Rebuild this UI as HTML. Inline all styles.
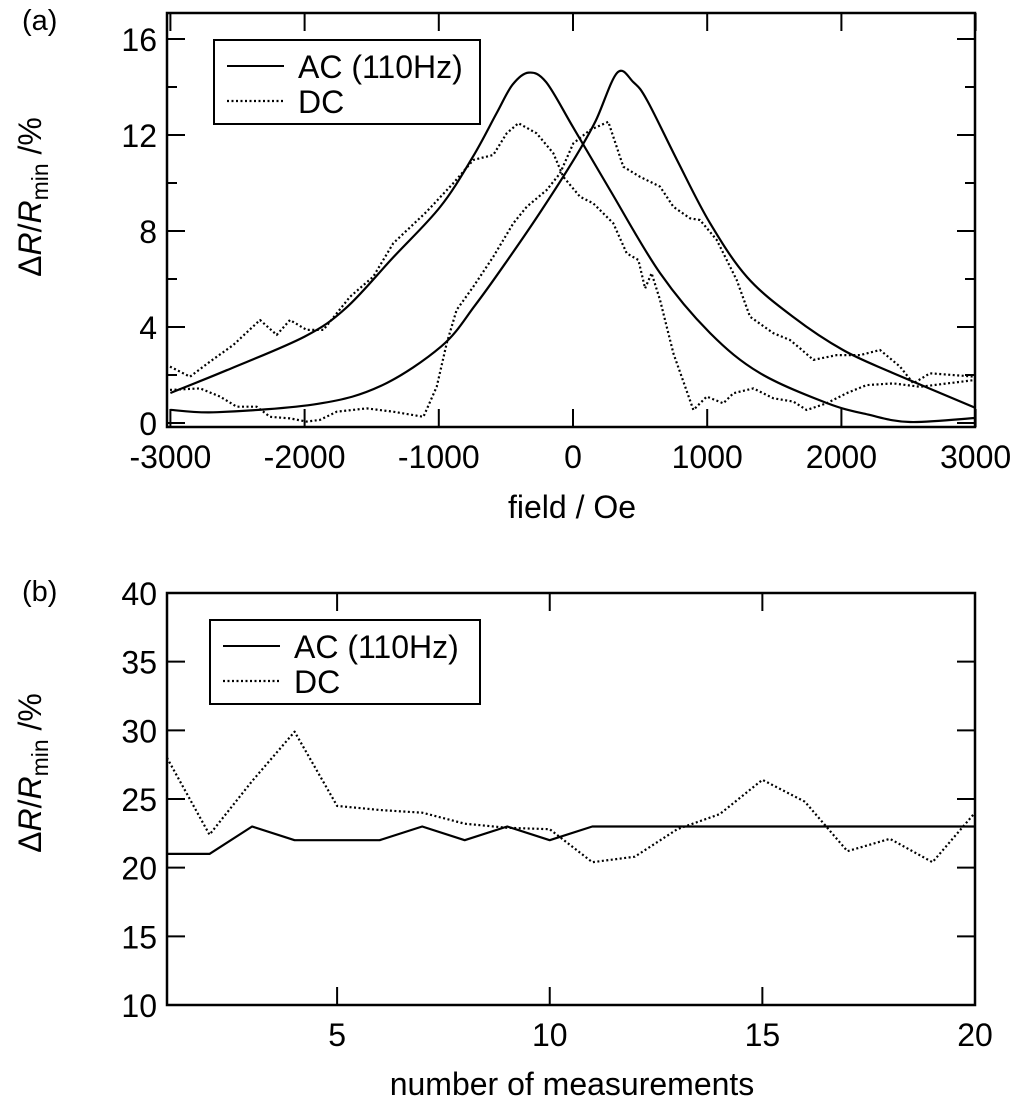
<!DOCTYPE html>
<html><head><meta charset="utf-8">
<style>
html,body{margin:0;padding:0;background:#fff;}
svg{display:block;font-family:"Liberation Sans",Arial,sans-serif;}
</style></head>
<body>
<svg id="fig" width="1024" height="1117" viewBox="0 0 1024 1117" xmlns="http://www.w3.org/2000/svg">
<text x="22" y="30" font-size="29">(a)</text>
<text x="22" y="601" font-size="29">(b)</text>
<text transform="translate(41,197) rotate(-90)" text-anchor="middle" font-size="32">Δ<tspan font-style="italic">R</tspan>/<tspan font-style="italic">R</tspan><tspan font-size="23" dy="7">min</tspan><tspan dy="-7"> /%</tspan></text>
<text transform="translate(41,773) rotate(-90)" text-anchor="middle" font-size="32">Δ<tspan font-style="italic">R</tspan>/<tspan font-style="italic">R</tspan><tspan font-size="23" dy="7">min</tspan><tspan dy="-7"> /%</tspan></text>
<text x="572" y="518" text-anchor="middle" font-size="32">field / Oe</text>
<text x="572" y="1095" text-anchor="middle" font-size="32">number of measurements</text>
<g id="pa"></g>
<g id="pb"></g>
</svg>
<script>
// Panel (a) data
const acLeftField = [-3000,-2580,-2000,-1690,-1340,-990,-745,-570,-450,-330,-200,0,276,648,1021,1393,1893,2200,2511,3000];
const acLeftValue = [1.25,2.2,3.6,4.8,6.9,9.0,11.1,12.9,14.1,14.6,14.2,12.33,9.71,6.25,3.75,2.08,0.83,0.35,0.04,0.21];
const acRightField = [-3000,-2650,-1900,-1430,-980,-730,-480,-230,20,170,330,450,551,775,1021,1297,1640,2012,2385,3000];
const acRightValue = [0.55,0.45,0.8,1.55,3.2,4.9,6.85,8.9,11.1,12.6,14.6,14.2,13.46,10.96,8.33,6.08,4.42,3.04,2.08,0.63];
const dcAField = [-3003,-2854,-2705,-2531,-2332,-2208,-2109,-1985,-1860,-1662,-1488,-1339,-1090,-892,-743,-594,-494,-407,-271,-147,-72,52,151,300,400,487,537,586,648,748,897,996,1120,1195,1344,1493,1642,1741,1890,2039,2188,2387,2586,2996];
const dcAValue = [2.35,1.93,2.56,3.25,4.29,3.67,4.29,3.88,3.88,5.26,6.10,7.49,8.81,9.99,10.96,11.17,12.07,12.49,12.07,11.24,10.26,9.43,9.15,8.32,7.07,6.79,5.61,6.24,5.13,2.90,0.54,1.10,0.82,1.24,1.44,1.03,0.89,0.54,0.82,1.24,1.58,1.65,1.51,1.79];
const dcBField = [-3003,-2779,-2630,-2506,-2357,-2258,-2109,-1985,-1885,-1761,-1538,-1339,-1115,-1016,-941,-867,-743,-594,-445,-345,-196,-97,2,127,263,375,499,648,748,872,946,1071,1220,1319,1493,1617,1692,1791,1965,2139,2288,2437,2536,2660,2996];
const dcBValue = [1.38,1.44,1.10,0.68,0.68,0.26,0.19,0.06,0.13,0.47,0.61,0.47,0.26,1.51,3.32,4.71,5.68,6.93,8.32,9.01,9.71,10.40,11.65,12.21,12.55,10.68,10.26,9.85,9.01,8.53,8.46,7.63,5.96,4.43,3.74,3.46,3.11,2.63,2.83,2.83,3.04,2.35,1.65,2.07,1.93];
const aXTicks = [-3000,-2000,-1000,0,1000,2000,3000];
const aYTicks = [0,2,4,6,8,10,12,14,16];
const aYLabels = ["0","4","8","12","16"];
// Panel (b) data
const bMeas = [1,2,3,4,5,6,7,8,9,10,11,12,13,14,15,16,17,18,19,20];
const bAC = [21,21,23,22,22,22,23,22,23,22,23,23,23,23,23,23,23,23,23,23];
const bDC = [28,22.4,26.3,29.9,24.5,24.2,24,23.2,22.9,22.8,20.4,20.8,22.8,23.9,26.4,24.8,21.2,22.1,20.4,24];
const bXTicks = [5,10,15,20];
const bYTicks = [10,15,20,25,30,35,40];

const NS="http://www.w3.org/2000/svg";
function mk(parent,tag,attrs){const e=document.createElementNS(NS,tag);for(const k in attrs)e.setAttribute(k,attrs[k]);parent.appendChild(e);return e;}

function line(g,xs,ys,fx,fy,dash,name,smooth){
  const P=xs.map((x,i)=>[fx(x),fy(ys[i])]);
  let d='M'+P[0][0].toFixed(1)+','+P[0][1].toFixed(1);
  for(let i=0;i<P.length-1;i++){
    if(smooth){
      const p0=P[Math.max(0,i-1)],p1=P[i],p2=P[i+1],p3=P[Math.min(P.length-1,i+2)];
      const c1=[p1[0]+(p2[0]-p0[0])/6,p1[1]+(p2[1]-p0[1])/6];
      const c2=[p2[0]-(p3[0]-p1[0])/6,p2[1]-(p3[1]-p1[1])/6];
      d+=' C'+c1[0].toFixed(1)+','+c1[1].toFixed(1)+' '+c2[0].toFixed(1)+','+c2[1].toFixed(1)+' '+p2[0].toFixed(1)+','+p2[1].toFixed(1);
    } else d+=' L'+P[i+1][0].toFixed(1)+','+P[i+1][1].toFixed(1);
  }
  const p=mk(g,'path',{d:d,fill:'none',stroke:'#000','stroke-width':dash?2.2:2.2,'stroke-linejoin':'round'});
  if(dash)p.setAttribute('stroke-dasharray','2,2.5');
  
  
}
function legend(g,x,y,w,h,name){
  const lg=mk(g,'g',{});
  
  
  mk(lg,'rect',{x:x,y:y,width:w,height:h,fill:'#fff',stroke:'#000','stroke-width':2});
  mk(lg,'line',{x1:x+13,y1:y+26,x2:x+70,y2:y+26,stroke:'#000','stroke-width':2});
  mk(lg,'line',{x1:x+13,y1:y+61,x2:x+70,y2:y+61,stroke:'#000','stroke-width':2.2,'stroke-dasharray':'2,2.5'});
  const t1=mk(lg,'text',{x:x+84,y:y+38,'font-size':32});t1.textContent='AC (110Hz)';
  const t2=mk(lg,'text',{x:x+84,y:y+73,'font-size':32});t2.textContent='DC';
}

// Panel a
const pa=document.getElementById('pa');
const ax=v=>573+v*0.1342, ay=v=>423-v*24;
const A={l:167,r:975,t:13,b:427};
const clipA=mk(pa,'clipPath',{id:'ca'});mk(clipA,'rect',{x:A.l,y:A.t,width:A.r-A.l,height:A.b-A.t});
const ga=mk(pa,'g',{'clip-path':'url(#ca)'});
line(ga,acLeftField,acLeftValue,ax,ay,false,'ac-curve-negative-peak',true);
line(ga,acRightField,acRightValue,ax,ay,false,'ac-curve-positive-peak',true);
line(ga,dcAField,dcAValue,ax,ay,true,'dc-curve-negative-peak',false);
line(ga,dcBField,dcBValue,ax,ay,true,'dc-curve-positive-peak',false);
const fa=mk(pa,'rect',{x:A.l,y:A.t,width:A.r-A.l,height:A.b-A.t,fill:'none',stroke:'#000','stroke-width':2.5});


aXTicks.forEach(v=>{
  const x=ax(v);
  mk(pa,'line',{x1:x,y1:A.b,x2:x,y2:A.b-18,stroke:'#000','stroke-width':2});
  mk(pa,'line',{x1:x,y1:A.t,x2:x,y2:A.t+18,stroke:'#000','stroke-width':2});
  const t=mk(pa,'text',{x:x,y:A.b+41,'text-anchor':'middle','font-size':32});
  t.textContent=String(v);
  
  
});
aYTicks.forEach((v,i)=>{
  const y=ay(v), major=(i%2===0), len=major?18:10;
  mk(pa,'line',{x1:A.l,y1:y,x2:A.l+len,y2:y,stroke:'#000','stroke-width':2});
  mk(pa,'line',{x1:A.r,y1:y,x2:A.r-len,y2:y,stroke:'#000','stroke-width':2});
  if(major){
    const t=mk(pa,'text',{x:A.l-10,y:y+12,'text-anchor':'end','font-size':32});
    t.textContent=aYLabels[i/2];
    
    
  }
});
legend(pa,214,40,266,84,'legend-a');

// Panel b
const pb=document.getElementById('pb');
const B={l:167,r:975,t:593,b:1005};
const bx=v=>B.l+(v-1)*(B.r-B.l)/19, by=v=>B.b-(v-10)*(B.b-B.t)/30;
line(pb,bMeas,bAC,bx,by,false,'ac-series-b',false);
line(pb,bMeas,bDC,bx,by,true,'dc-series-b',false);
const fb=mk(pb,'rect',{x:B.l,y:B.t,width:B.r-B.l,height:B.b-B.t,fill:'none',stroke:'#000','stroke-width':2.5});


bXTicks.forEach(v=>{
  const x=bx(v);
  mk(pb,'line',{x1:x,y1:B.b,x2:x,y2:B.b-18,stroke:'#000','stroke-width':2});
  mk(pb,'line',{x1:x,y1:B.t,x2:x,y2:B.t+18,stroke:'#000','stroke-width':2});
  const t=mk(pb,'text',{x:x,y:B.b+41,'text-anchor':'middle','font-size':32});
  t.textContent=String(v);
  
  
});
bYTicks.forEach(v=>{
  const y=by(v);
  mk(pb,'line',{x1:B.l,y1:y,x2:B.l+18,y2:y,stroke:'#000','stroke-width':2});
  mk(pb,'line',{x1:B.r,y1:y,x2:B.r-18,y2:y,stroke:'#000','stroke-width':2});
  const t=mk(pb,'text',{x:B.l-10,y:y+12,'text-anchor':'end','font-size':32});
  t.textContent=String(v);
  
  
});
legend(pb,210,620,270,84,'legend-b');
</script>
</body></html>
